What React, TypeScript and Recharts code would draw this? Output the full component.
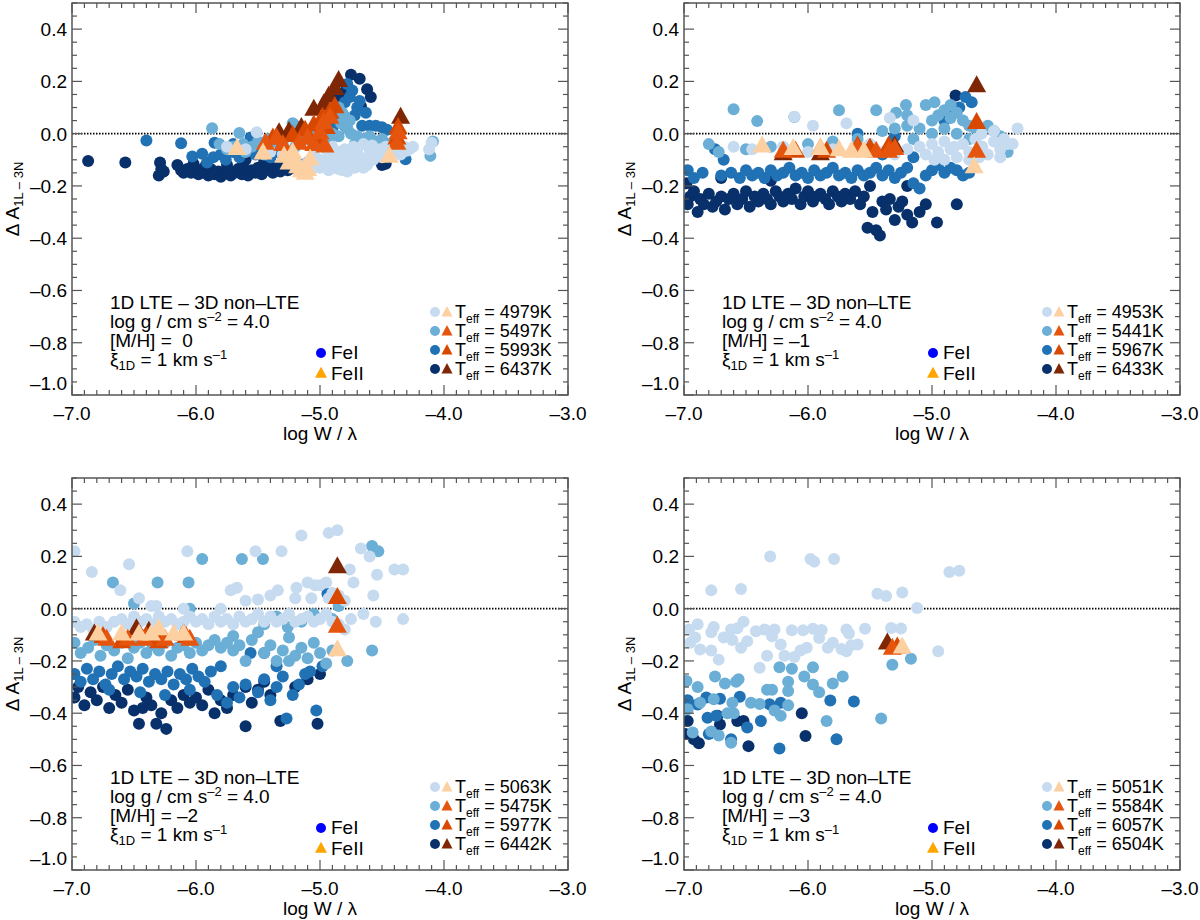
import React from "react";
import { ScatterChart, Scatter, XAxis, YAxis, ReferenceLine } from "recharts";

type P = [number, number];

// marker colours, coolest model first
const CIRCLE_COLORS = ["#c6dbef", "#6baed6", "#2171b5", "#08306b"];
const TRI_COLORS = ["#fdd0a2", "#e6550d", "#d94801", "#7f2704"];

const X_MAJOR = [-7, -6, -5, -4, -3];
const Y_MAJOR = [-1.0, -0.8, -0.6, -0.4, -0.2, 0.0, 0.2, 0.4];
const X_DOMAIN: [number, number] = [-7, -3];
const Y_DOMAIN: [number, number] = [-1, 0.5];

const TEFF_M0 = ["4979K", "5497K", "5993K", "6437K"];
const TEFF_M1 = ["4953K", "5441K", "5967K", "6433K"];
const TEFF_M2 = ["5063K", "5475K", "5977K", "6442K"];
const TEFF_M3 = ["5051K", "5584K", "6057K", "6504K"];
const METALLICITY = ["\u00a00", "\u2013" + "1", "\u2013" + "2", "\u2013" + "3"];

// ---------- [M/H] = 0 ----------
const feI_m0_4979: P[] = [
  [-5.51, 0.005], [-5.75, -0.05], [-5.6, -0.06], [-5.4, -0.07], [-5.3, -0.08], [-5.2, -0.1], [-5.1, -0.11],
  [-5.05, -0.13], [-5.05, -0.08], [-5.0, -0.1], [-4.97, -0.12], [-4.95, -0.06], [-4.93, -0.09], [-4.93, -0.14],
  [-4.9, -0.13], [-4.9, -0.05], [-4.87, -0.11], [-4.85, -0.07], [-4.85, -0.135], [-4.82, -0.14], [-4.8, -0.1],
  [-4.8, -0.06], [-4.78, -0.145], [-4.75, -0.12], [-4.73, -0.05], [-4.72, -0.09], [-4.72, -0.13], [-4.7, -0.07],
  [-4.68, -0.11], [-4.65, -0.13], [-4.65, -0.04], [-4.62, -0.09], [-4.62, -0.12], [-4.6, -0.06], [-4.58, -0.045],
  [-4.57, -0.1], [-4.55, -0.08], [-4.52, -0.06], [-4.5, -0.09], [-4.47, -0.05], [-4.45, -0.075], [-4.42, -0.07],
  [-4.4, -0.04], [-4.38, -0.05], [-4.35, -0.08], [-4.32, -0.05], [-4.3, -0.065], [-4.28, -0.06], [-4.25, -0.05],
  [-4.12, -0.06], [-4.1, -0.035], [-5.0, -0.13], [-4.88, -0.1], [-4.76, -0.08],
];
const feI_m0_5497: P[] = [
  [-5.87, 0.021], [-5.65, 0.003], [-5.81, -0.04], [-5.75, -0.06], [-5.7, -0.05], [-5.62, -0.04], [-5.6, -0.07],
  [-5.55, -0.05], [-5.5, -0.03], [-5.45, -0.08], [-5.42, -0.02], [-5.38, -0.05], [-5.3, -0.03], [-5.22, 0.04],
  [-5.2, -0.05], [-5.15, -0.03], [-5.1, -0.02], [-5.05, -0.01], [-5.0, 0.0], [-5.0, -0.03], [-4.95, -0.02],
  [-4.9, 0.0], [-4.88, 0.09], [-4.85, 0.1], [-4.85, -0.01], [-4.83, 0.04], [-4.82, 0.08], [-4.8, 0.066],
  [-4.78, 0.02], [-4.76, 0.05], [-4.75, 0.0], [-4.7, -0.01], [-4.65, -0.02], [-4.6, -0.01], [-4.55, -0.03],
  [-4.5, -0.02], [-4.45, -0.04], [-4.4, -0.03], [-4.35, -0.05], [-4.3, -0.06], [-4.11, -0.085], [-4.09, -0.03],
  [-4.92, -0.04], [-4.72, -0.04], [-4.62, -0.04],
];
const feI_m0_5993: P[] = [
  [-6.4, -0.026], [-6.12, -0.037], [-6.03, -0.087], [-5.95, -0.077], [-5.85, -0.035], [-5.91, -0.11],
  [-5.86, -0.09], [-5.8, -0.08], [-5.76, -0.1], [-5.7, -0.07], [-5.7, -0.04], [-5.65, -0.09], [-5.56, -0.015],
  [-5.6, -0.06], [-5.52, -0.08], [-5.45, -0.06], [-5.4, -0.09], [-5.35, -0.07], [-5.3, -0.08], [-5.2, 0.03],
  [-5.1, 0.01], [-5.0, 0.03], [-4.95, 0.05], [-4.9, 0.07], [-4.9, 0.02], [-4.85, 0.09], [-4.85, 0.05],
  [-4.8, 0.12], [-4.8, 0.03], [-4.78, 0.19], [-4.76, 0.14], [-4.74, 0.165], [-4.72, 0.07], [-4.7, 0.1],
  [-4.68, 0.125], [-4.66, 0.03], [-4.63, 0.08], [-4.6, 0.03], [-4.55, 0.03], [-4.5, 0.025], [-4.46, 0.015],
  [-4.35, -0.07], [-4.31, -0.098],
];
const feI_m0_6437: P[] = [
  [-6.87, -0.105], [-6.57, -0.11], [-6.29, -0.11], [-6.28, -0.135], [-6.3, -0.16], [-6.26, -0.145],
  [-6.15, -0.12], [-6.12, -0.14], [-6.1, -0.15], [-6.07, -0.135], [-6.04, -0.15], [-6.02, -0.115],
  [-6.01, -0.13], [-5.98, -0.155], [-5.96, -0.14], [-5.93, -0.15], [-5.92, -0.12], [-5.9, -0.16],
  [-5.88, -0.135], [-5.85, -0.155], [-5.82, -0.145], [-5.8, -0.165], [-5.77, -0.15], [-5.75, -0.12],
  [-5.74, -0.14], [-5.72, -0.16], [-5.69, -0.15], [-5.66, -0.135], [-5.63, -0.155], [-5.62, -0.115],
  [-5.6, -0.145], [-5.6, -0.1], [-5.58, -0.16], [-5.55, -0.14], [-5.52, -0.15], [-5.5, -0.13], [-5.47, -0.155],
  [-5.45, -0.105], [-5.44, -0.14], [-5.41, -0.125], [-5.38, -0.15], [-5.35, -0.13], [-5.32, -0.145],
  [-5.29, -0.12], [-5.26, -0.14], [-5.22, -0.13], [-5.18, -0.115], [-5.15, -0.13], [-5.1, -0.11],
  [-5.05, -0.12], [-4.86, 0.14], [-4.8, 0.16], [-4.75, 0.225], [-4.68, 0.21], [-4.62, 0.17], [-4.59, 0.14],
  [-4.67, 0.105], [-4.5, -0.12], [-4.47, -0.115],
];
const feII_m0_4979: P[] = [
  [-5.67, -0.06], [-5.46, -0.077], [-5.29, -0.09], [-5.22, -0.075], [-5.25, -0.115], [-5.2, -0.1],
  [-5.18, -0.13], [-5.15, -0.145], [-5.12, -0.155], [-5.1, -0.14], [-5.08, -0.1], [-4.44, -0.09],
];
const feII_m0_5497: P[] = [
  [-5.44, -0.04], [-5.35, -0.02], [-5.3, -0.045], [-5.17, -0.04], [-5.1, -0.02], [-5.05, -0.045],
  [-5.0, 0.0], [-4.97, 0.04], [-4.96, -0.05], [-4.92, 0.06], [-4.38, -0.04], [-4.37, 0.0],
];
const feII_m0_5993: P[] = [
  [-5.38, -0.02], [-5.22, -0.01], [-5.12, 0.01], [-5.05, 0.03], [-5.02, -0.02], [-4.98, 0.06],
  [-4.95, 0.02], [-4.92, 0.08], [-4.88, 0.1], [-4.38, -0.02], [-4.37, 0.02],
];
const feII_m0_6437: P[] = [
  [-5.33, 0.0], [-5.25, 0.005], [-5.15, 0.02], [-5.05, 0.09], [-4.97, 0.11], [-4.93, 0.14], [-4.88, 0.17],
  [-4.85, 0.2], [-4.35, 0.06],
];

// ---------- [M/H] = -1 ----------
const feI_m1_4953: P[] = [
  [-6.11, 0.065], [-5.96, 0.03], [-5.69, 0.04], [-5.34, 0.06], [-5.15, 0.05], [-4.31, 0.02], [-4.39, -0.04],
  [-6.6, -0.05], [-6.45, -0.06], [-6.2, -0.05], [-6.0, -0.07], [-5.8, -0.06], [-5.6, -0.05], [-5.5, -0.04],
  [-5.4, -0.07], [-5.3, -0.08], [-5.2, -0.06], [-5.1, -0.05], [-5.05, -0.08], [-5.0, -0.04], [-4.95, -0.07],
  [-4.9, -0.03], [-4.9, -0.1], [-4.85, -0.06], [-4.8, -0.09], [-4.75, -0.04], [-4.7, -0.07], [-4.7, -0.1],
  [-4.65, -0.02], [-4.6, -0.05], [-4.6, 0.0], [-4.55, -0.08], [-4.5, -0.03], [-4.5, 0.01], [-4.45, -0.06],
  [-4.42, -0.02], [-4.35, -0.04], [-4.98, -0.1], [-4.82, -0.05], [-4.62, -0.09], [-4.45, -0.09],
];
const feI_m1_5441: P[] = [
  [-6.6, 0.093], [-6.41, 0.048], [-6.11, 0.064], [-5.75, 0.09], [-5.45, 0.09], [-5.29, 0.08], [-5.21, 0.11],
  [-5.05, 0.11], [-4.98, 0.12], [-4.39, -0.07], [-6.72, -0.07], [-6.8, -0.04], [-6.5, -0.06], [-6.3, -0.05],
  [-6.0, -0.04], [-5.8, -0.03], [-5.6, -0.02], [-5.4, 0.01], [-5.3, 0.02], [-5.2, 0.03], [-5.2, 0.07],
  [-5.15, -0.02], [-5.1, 0.02], [-5.0, 0.05], [-5.0, 0.0], [-4.95, 0.07], [-4.9, 0.09], [-4.9, 0.02],
  [-4.85, 0.06], [-4.85, 0.11], [-4.8, 0.08], [-4.8, 0.0], [-4.75, 0.05], [-4.7, 0.03], [-4.7, -0.02],
  [-4.65, 0.02], [-4.6, 0.01], [-4.6, -0.05], [-4.55, 0.03], [-4.5, 0.01], [-4.45, -0.01],
];
const feI_m1_5967: P[] = [
  [-6.97, -0.14], [-6.92, -0.17], [-6.85, -0.15], [-6.75, -0.06], [-6.68, -0.1], [-6.7, -0.16],
  [-6.62, -0.15], [-6.55, -0.17], [-6.5, -0.14], [-6.45, -0.16], [-6.4, -0.15], [-6.35, -0.17],
  [-6.3, -0.14], [-6.25, -0.16], [-6.2, -0.15], [-6.15, -0.13], [-6.1, -0.16], [-6.05, -0.15],
  [-6.0, -0.17], [-5.95, -0.14], [-5.9, -0.16], [-5.85, -0.15], [-5.8, -0.13], [-5.75, -0.16],
  [-5.7, -0.15], [-5.65, -0.17], [-5.6, -0.14], [-5.6, 0.0], [-5.55, -0.16], [-5.5, -0.15], [-5.45, -0.13],
  [-5.4, -0.16], [-5.4, -0.08], [-5.35, -0.14], [-5.3, -0.17], [-5.3, -0.01], [-5.25, -0.15], [-5.2, -0.13],
  [-5.15, -0.19], [-5.15, -0.09], [-5.1, -0.21], [-5.05, -0.16], [-5.0, -0.14], [-4.95, -0.12],
  [-4.9, -0.15], [-4.9, 0.05], [-4.85, -0.13], [-4.85, 0.08], [-4.8, -0.14], [-4.78, 0.1], [-4.75, -0.16],
  [-4.73, 0.14], [-4.7, -0.15], [-4.68, 0.12],
];
const feI_m1_6433: P[] = [
  [-6.98, -0.19], [-6.97, -0.27], [-6.95, -0.24], [-6.92, -0.22], [-6.89, -0.3], [-6.87, -0.25],
  [-6.84, -0.27], [-6.8, -0.23], [-6.77, -0.28], [-6.74, -0.26], [-6.7, -0.24], [-6.7, -0.17],
  [-6.67, -0.29], [-6.64, -0.25], [-6.6, -0.23], [-6.57, -0.27], [-6.53, -0.25], [-6.5, -0.22],
  [-6.47, -0.28], [-6.43, -0.24], [-6.4, -0.26], [-6.36, -0.23], [-6.33, -0.25], [-6.3, -0.27],
  [-6.3, -0.18], [-6.26, -0.22], [-6.23, -0.24], [-6.2, -0.26], [-6.16, -0.23], [-6.13, -0.25],
  [-6.1, -0.21], [-6.06, -0.27], [-6.03, -0.24], [-6.0, -0.22], [-5.96, -0.26], [-5.93, -0.24],
  [-5.9, -0.23], [-5.86, -0.25], [-5.83, -0.27], [-5.8, -0.22], [-5.76, -0.24], [-5.73, -0.26],
  [-5.7, -0.23], [-5.66, -0.25], [-5.62, -0.22], [-5.58, -0.27], [-5.55, -0.24], [-5.52, -0.36],
  [-5.5, -0.2], [-5.48, -0.3], [-5.45, -0.37], [-5.42, -0.39], [-5.4, -0.26], [-5.37, -0.29],
  [-5.34, -0.25], [-5.3, -0.33], [-5.27, -0.28], [-5.24, -0.26], [-5.2, -0.31], [-5.2, -0.2],
  [-5.16, -0.34], [-5.1, -0.3], [-5.05, -0.27], [-4.96, -0.34], [-4.8, -0.27], [-4.81, 0.146],
];
const feII_m1_4953: P[] = [
  [-6.37, -0.05], [-6.12, -0.06], [-5.9, -0.06], [-5.75, -0.065], [-5.65, -0.07], [-5.55, -0.07], [-4.66, -0.13],
];
const feII_m1_5441: P[] = [
  [-6.2, -0.07], [-5.9, -0.06], [-5.6, -0.06], [-5.45, -0.07], [-5.35, -0.07], [-5.3, -0.06], [-4.64, -0.07],
];
const feII_m1_5967: P[] = [
  [-6.1, -0.07], [-5.85, -0.07], [-5.6, -0.05], [-5.5, -0.06], [-5.35, -0.05], [-4.64, 0.04],
];
const feII_m1_6433: P[] = [
  [-6.2, -0.08], [-5.9, -0.08], [-5.5, -0.06], [-5.3, -0.05], [-4.64, 0.18],
];

// ---------- [M/H] = -2 ----------
const feI_m2_5063: P[] = [
  [-6.98, 0.22], [-6.84, 0.14], [-6.54, 0.17], [-6.61, 0.07], [-6.46, 0.04], [-6.36, 0.01], [-6.32, 0.01],
  [-6.07, 0.22], [-5.8, 0.0], [-5.72, 0.07], [-5.67, 0.08], [-5.6, 0.03], [-5.52, 0.22], [-5.5, 0.035],
  [-5.4, 0.05], [-5.34, 0.07], [-5.31, 0.22], [-5.2, 0.04], [-5.19, 0.08], [-5.15, 0.28], [-5.1, 0.1],
  [-5.07, 0.04], [-5.04, 0.09], [-5.0, 0.09], [-4.95, 0.1], [-4.93, 0.29], [-4.93, 0.04], [-4.9, 0.06],
  [-4.86, 0.3], [-4.85, 0.05], [-4.8, 0.03], [-4.76, 0.15], [-4.73, 0.1], [-4.67, 0.23], [-4.6, 0.2],
  [-4.57, 0.05], [-4.54, 0.13], [-4.4, 0.15], [-4.33, 0.15], [-4.33, -0.04], [-4.55, -0.05],
  [-6.98, -0.05], [-6.93, -0.07], [-6.88, -0.06], [-6.83, -0.08], [-6.78, -0.05], [-6.72, -0.07],
  [-6.66, -0.05], [-6.6, -0.04], [-6.55, -0.06], [-6.5, -0.03], [-6.45, -0.05], [-6.4, -0.04],
  [-6.35, -0.06], [-6.3, -0.03], [-6.25, -0.05], [-6.2, -0.04], [-6.15, -0.06], [-6.1, -0.05],
  [-6.1, 0.0], [-6.05, -0.03], [-6.0, -0.05], [-5.95, -0.04], [-5.9, -0.06], [-5.85, -0.03], [-5.8, -0.05],
  [-5.75, -0.04], [-5.7, -0.06], [-5.65, -0.03], [-5.6, -0.05], [-5.55, -0.04], [-5.5, -0.02],
  [-5.45, -0.05], [-5.4, -0.03], [-5.35, -0.05], [-5.3, -0.04], [-5.25, -0.02], [-5.2, -0.05],
  [-5.15, -0.04], [-5.1, -0.03], [-5.05, -0.05], [-5.0, -0.04], [-4.95, -0.02], [-4.9, -0.05],
  [-4.85, -0.06], [-4.8, -0.08], [-4.75, -0.04], [-4.65, -0.02],
];
const feI_m2_5475: P[] = [
  [-6.67, 0.1], [-6.31, 0.1], [-6.06, 0.1], [-5.95, 0.19], [-5.63, 0.19], [-5.46, 0.19], [-4.58, 0.24],
  [-4.53, 0.22], [-4.58, -0.16], [-4.78, -0.2], [-6.5, 0.02], [-6.05, 0.0],
  [-6.98, -0.13], [-6.93, -0.17], [-6.87, -0.15], [-6.82, -0.12], [-6.77, -0.18], [-6.72, -0.14],
  [-6.66, -0.16], [-6.6, -0.13], [-6.55, -0.19], [-6.5, -0.15], [-6.45, -0.13], [-6.4, -0.17],
  [-6.35, -0.14], [-6.3, -0.16], [-6.25, -0.13], [-6.2, -0.18], [-6.15, -0.15], [-6.1, -0.14],
  [-6.05, -0.17], [-6.0, -0.13], [-5.95, -0.16], [-5.9, -0.14], [-5.85, -0.12], [-5.8, -0.15],
  [-5.75, -0.13], [-5.7, -0.16], [-5.7, -0.105], [-5.65, -0.14], [-5.6, -0.2], [-5.55, -0.12],
  [-5.5, -0.09], [-5.45, -0.17], [-5.45, -0.06], [-5.4, -0.14], [-5.35, -0.2], [-5.35, -0.03],
  [-5.3, -0.16], [-5.26, -0.07], [-5.25, -0.11], [-5.25, -0.2], [-5.2, -0.18], [-5.15, -0.15],
  [-5.15, -0.05], [-5.1, -0.19], [-5.05, -0.13], [-5.05, -0.02], [-5.0, -0.17], [-4.95, -0.21],
  [-4.9, -0.16], [-4.9, -0.04], [-4.85, 0.01],
];
const feI_m2_5977: P[] = [
  [-6.98, -0.25], [-6.93, -0.28], [-6.88, -0.23], [-6.83, -0.27], [-6.78, -0.24], [-6.73, -0.29],
  [-6.7, -0.31], [-6.68, -0.25], [-6.63, -0.22], [-6.58, -0.27], [-6.53, -0.24], [-6.48, -0.26],
  [-6.45, -0.32], [-6.43, -0.23], [-6.38, -0.28], [-6.33, -0.25], [-6.28, -0.27], [-6.25, -0.33],
  [-6.23, -0.24], [-6.18, -0.29], [-6.13, -0.25], [-6.08, -0.27], [-6.05, -0.31], [-6.03, -0.23],
  [-5.98, -0.26], [-5.93, -0.28], [-5.88, -0.24], [-5.83, -0.33], [-5.8, -0.22], [-5.75, -0.36],
  [-5.7, -0.3], [-5.65, -0.34], [-5.6, -0.29], [-5.56, -0.17], [-5.5, -0.32], [-5.45, -0.27],
  [-5.45, -0.17], [-5.4, -0.35], [-5.35, -0.3], [-5.35, -0.22], [-5.3, -0.26], [-5.27, -0.42],
  [-5.22, -0.33], [-5.17, -0.29], [-5.12, -0.25], [-5.08, -0.24], [-5.03, -0.39], [-4.98, -0.22],
  [-4.94, 0.057],
];
const feI_m2_6442: P[] = [
  [-6.98, -0.34], [-6.95, -0.3], [-6.9, -0.37], [-6.85, -0.32], [-6.8, -0.35], [-6.75, -0.3],
  [-6.7, -0.38], [-6.65, -0.33], [-6.6, -0.36], [-6.55, -0.31], [-6.5, -0.39], [-6.46, -0.44],
  [-6.43, -0.38], [-6.4, -0.34], [-6.36, -0.37], [-6.32, -0.44], [-6.28, -0.4], [-6.24, -0.46],
  [-6.2, -0.35], [-6.15, -0.38], [-6.1, -0.33], [-6.05, -0.36], [-6.0, -0.34], [-5.95, -0.37],
  [-5.9, -0.31], [-5.85, -0.4], [-5.8, -0.35], [-5.75, -0.38], [-5.7, -0.33], [-5.6, -0.3],
  [-5.6, -0.45], [-5.55, -0.36], [-5.5, -0.31], [-5.45, -0.28], [-5.4, -0.33], [-5.32, -0.43],
  [-5.2, -0.3], [-5.1, -0.27], [-5.02, -0.44], [-5.0, -0.25],
];
const feII_m2_5063: P[] = [
  [-6.79, -0.1], [-6.6, -0.1], [-6.46, -0.1], [-6.36, -0.1], [-6.3, -0.08], [-6.18, -0.1], [-6.1, -0.1], [-4.86, -0.16],
];
const feII_m2_5475: P[] = [
  [-6.72, -0.12], [-6.55, -0.12], [-6.42, -0.12], [-6.25, -0.12], [-6.05, -0.12], [-4.86, -0.07],
];
const feII_m2_5977: P[] = [
  [-6.75, -0.11], [-6.6, -0.13], [-6.4, -0.11], [-6.3, -0.13], [-6.08, -0.11], [-4.86, 0.04],
];
const feII_m2_6442: P[] = [
  [-6.82, -0.1], [-6.48, -0.08], [-6.38, -0.09], [-6.1, -0.1], [-4.86, 0.157],
];

// ---------- [M/H] = -3 ----------
const feI_m3_5051: P[] = [
  [-6.305, 0.2], [-5.98, 0.19], [-5.95, 0.18], [-5.79, 0.19], [-6.78, 0.07], [-6.54, 0.075], [-4.86, 0.14],
  [-4.78, 0.145], [-5.44, 0.057], [-5.37, 0.048], [-5.24, 0.062], [-5.12, 0.003], [-4.95, -0.163],
  [-5.33, -0.074], [-5.25, -0.076], [-5.54, -0.077], [-5.69, -0.08], [-5.67, -0.095], [-5.96, -0.077],
  [-5.89, -0.082], [-6.13, -0.083], [-6.04, -0.083], [-6.35, -0.08], [-6.42, -0.086], [-6.27, -0.08],
  [-6.52, -0.05], [-6.57, -0.075], [-6.62, -0.08], [-6.76, -0.07], [-6.89, -0.06], [-6.96, -0.08],
  [-6.91, -0.11], [-6.78, -0.09], [-6.68, -0.11], [-6.78, -0.16], [-6.72, -0.195], [-6.61, -0.12],
  [-6.49, -0.125], [-6.54, -0.15], [-6.29, -0.106], [-6.22, -0.137], [-6.33, -0.18], [-6.39, -0.226],
  [-6.19, -0.18], [-6.11, -0.185], [-6.06, -0.16], [-6.01, -0.15], [-5.91, -0.112], [-5.84, -0.15],
  [-5.8, -0.13], [-5.73, -0.154], [-5.69, -0.163], [-5.65, -0.14], [-5.6, -0.137], [-6.87, -0.156],
  [-6.95, -0.13],
];
const feI_m3_5584: P[] = [
  [-6.23, -0.224], [-6.13, -0.23], [-5.96, -0.224], [-6.75, -0.26], [-6.67, -0.286], [-6.58, -0.28],
  [-6.56, -0.27], [-6.98, -0.277], [-6.89, -0.3], [-6.03, -0.26], [-5.96, -0.29], [-6.16, -0.28],
  [-6.16, -0.315], [-5.91, -0.32], [-5.8, -0.286], [-5.72, -0.26], [-5.32, -0.215], [-5.17, -0.192],
  [-5.41, -0.42], [-5.85, -0.43], [-6.33, -0.31], [-6.29, -0.31], [-6.46, -0.36], [-6.39, -0.365],
  [-6.27, -0.39], [-6.22, -0.41], [-6.61, -0.36], [-6.65, -0.4], [-6.6, -0.4], [-6.16, -0.37],
  [-6.97, -0.385], [-6.93, -0.474], [-6.78, -0.47], [-6.72, -0.485], [-6.62, -0.513], [-6.87, -0.36],
  [-6.76, -0.347],
];
const feI_m3_6057: P[] = [
  [-5.82, -0.351], [-5.63, -0.355], [-5.77, -0.5], [-6.23, -0.535], [-6.38, -0.43], [-6.49, -0.455],
  [-6.55, -0.337], [-6.71, -0.345], [-6.82, -0.34], [-6.89, -0.367], [-6.81, -0.417], [-6.74, -0.41],
  [-6.62, -0.5], [-6.31, -0.366], [-6.22, -0.36], [-6.8, -0.48], [-6.97, -0.35],
];
const feI_m3_6504: P[] = [
  [-6.05, -0.4], [-6.02, -0.487], [-6.48, -0.526], [-6.71, -0.443], [-6.73, -0.41], [-6.57, -0.43],
  [-6.52, -0.43], [-6.88, -0.515], [-6.97, -0.43], [-6.99, -0.48], [-6.92, -0.5],
];
const feII_m3_5051: P[] = [[-5.24, -0.15]];
const feII_m3_5584: P[] = [[-5.32, -0.155]];
const feII_m3_6057: P[] = [[-5.28, -0.15]];
const feII_m3_6504: P[] = [[-5.36, -0.135]];

const PANELS = [
  {
    left: 0, top: 0, mh: METALLICITY[0], teff: TEFF_M0,
    feI: [feI_m0_4979, feI_m0_5497, feI_m0_5993, feI_m0_6437],
    feII: [feII_m0_4979, feII_m0_5497, feII_m0_5993, feII_m0_6437],
  },
  {
    left: 612, top: 0, mh: METALLICITY[1], teff: TEFF_M1,
    feI: [feI_m1_4953, feI_m1_5441, feI_m1_5967, feI_m1_6433],
    feII: [feII_m1_4953, feII_m1_5441, feII_m1_5967, feII_m1_6433],
  },
  {
    left: 0, top: 475, mh: METALLICITY[2], teff: TEFF_M2,
    feI: [feI_m2_5063, feI_m2_5475, feI_m2_5977, feI_m2_6442],
    feII: [feII_m2_5063, feII_m2_5475, feII_m2_5977, feII_m2_6442],
  },
  {
    left: 612, top: 475, mh: METALLICITY[3], teff: TEFF_M3,
    feI: [feI_m3_5051, feI_m3_5584, feI_m3_6057, feI_m3_6504],
    feII: [feII_m3_5051, feII_m3_5584, feII_m3_6057, feII_m3_6504],
  },
];

const W = 588;
const H = 445;
const PL = 72; // plot left inside chart
const PT = 3; // plot top inside chart
const PW = 496;
const PH = 392;
const AX = "#555";
const FONT = "'Liberation Sans', Arial, Helvetica, sans-serif";
const FS = 19;
const FS_SUB = 13;
const FS_LEG = 18;

function subdivide(majors: number[], parts: number) {
  const out: number[] = [];
  for (let i = 0; i < majors.length - 1; i++) {
    const a = majors[i];
    const step = (majors[i + 1] - a) / parts;
    for (let k = 0; k < parts; k++) out.push(Math.round((a + k * step) * 1000) / 1000);
  }
  out.push(majors[majors.length - 1]);
  return out;
}

const X_TICKS = subdivide(X_MAJOR, 10);
const Y_TICKS = subdivide([...Y_MAJOR, 0.6], 4).filter((v) => v <= 0.5 + 1e-9);

const isMajor = (v: number, list: number[]) => list.some((m) => Math.abs(m - v) < 1e-6);
const fmt = (v: number) => (v < -1e-9 ? "\u2013" + Math.abs(v).toFixed(1) : Math.abs(v).toFixed(1));

function XTick({ x, y, payload }: any) {
  const v = payload.value;
  const major = isMajor(v, X_MAJOR);
  const len = major ? 10 : 5;
  return (
    <g>
      <line x1={x} y1={y} x2={x} y2={y - len} stroke={AX} strokeWidth={1.2} />
      <line x1={x} y1={y - PH} x2={x} y2={y - PH + len} stroke={AX} strokeWidth={1.2} />
      {major && (
        <text x={x} y={y + 25} textAnchor="middle" fontSize={FS} fontFamily={FONT} fill="#000">
          {fmt(v)}
        </text>
      )}
    </g>
  );
}

function YTick({ x, y, payload }: any) {
  const v = payload.value;
  const major = isMajor(v, Y_MAJOR);
  const len = major ? 10 : 5;
  const ly = Math.abs(v + 1) < 1e-6 ? y - 12 : y;
  return (
    <g>
      <line x1={x} y1={y} x2={x + len} y2={y} stroke={AX} strokeWidth={1.2} />
      <line x1={x + PW} y1={y} x2={x + PW - len} y2={y} stroke={AX} strokeWidth={1.2} />
      {major && (
        <text x={x - 5} y={ly + 7} textAnchor="end" fontSize={FS} fontFamily={FONT} fill="#000">
          {fmt(v)}
        </text>
      )}
    </g>
  );
}

const tri = (cx: number, cy: number, b: number, h: number) =>
  `${cx},${cy - (2 * h) / 3} ${cx - b},${cy + h / 3} ${cx + b},${cy + h / 3}`;

const toPts = (arr: P[]) => arr.map(([x, y]) => ({ x, y }));

function Panel({ panel }: { panel: (typeof PANELS)[number] }) {
  const order = [3, 2, 1, 0];
  return (
    <div style={{ position: "absolute", left: panel.left, top: panel.top, width: W, height: H }}>
      <ScatterChart width={W} height={H} margin={{ top: PT, right: W - PL - PW, bottom: 0, left: 0 }}>
        <XAxis
          type="number"
          dataKey="x"
          domain={X_DOMAIN}
          ticks={X_TICKS}
          interval={0}
          allowDataOverflow
          axisLine={false}
          tickLine={false}
          tickSize={0}
          tickMargin={0}
          height={H - PT - PH}
          tick={<XTick />}
        />
        <YAxis
          type="number"
          dataKey="y"
          domain={Y_DOMAIN}
          ticks={Y_TICKS}
          interval={0}
          allowDataOverflow
          axisLine={false}
          tickLine={false}
          tickSize={0}
          tickMargin={0}
          width={PL}
          tick={<YTick />}
        />
        {order.map((i) => (
          <Scatter
            key={"c" + i}
            data={toPts(panel.feI[i])}
            isAnimationActive={false}
            shape={(p: any) => <circle cx={p.cx} cy={p.cy} r={6} fill={CIRCLE_COLORS[i]} />}
          />
        ))}
        {order.map((i) => (
          <Scatter
            key={"t" + i}
            data={toPts(panel.feII[i])}
            isAnimationActive={false}
            shape={(p: any) => <polygon points={tri(p.cx, p.cy, 9.5, 17)} fill={TRI_COLORS[i]} />}
          />
        ))}
        <ReferenceLine y={0} stroke="#000" strokeWidth={1.6} strokeDasharray="1.5 1.5" />
      </ScatterChart>
      <svg
        width={W}
        height={H}
        style={{ position: "absolute", left: 0, top: 0, pointerEvents: "none" }}
        fontFamily={FONT}
      >
        <rect x={PL} y={PT} width={PW} height={PH} fill="none" stroke={AX} strokeWidth={1.5} />
        <text x={19} y={PT + PH / 2} transform={`rotate(-90 19 ${PT + PH / 2})`} textAnchor="middle" fontSize={FS}>
          {"\u0394 A"}
          <tspan fontSize={FS_SUB} dy={4}>{"1L \u2013 3N"}</tspan>
        </text>
        <text x={PL + PW / 2} y={440} textAnchor="middle" fontSize={FS}>
          {"log W / \u03bb"}
        </text>
        <g fontSize={FS} style={{ whiteSpace: "pre" }}>
          <text x={110} y={309}>{"1D LTE \u2013 3D non\u2013LTE"}</text>
          <text x={110} y={328}>
            {"log g / cm s"}
            <tspan fontSize={FS_SUB} dy={-7}>{"\u20132"}</tspan>
            <tspan dy={7}>{" = 4.0"}</tspan>
          </text>
          <text x={110} y={347}>{"[M/H] = " + panel.mh}</text>
          <text x={110} y={366}>
            {"\u03be"}
            <tspan fontSize={FS_SUB} dy={4}>{"1D"}</tspan>
            <tspan dy={-4}>{" = 1 km s"}</tspan>
            <tspan fontSize={FS_SUB} dy={-7}>{"\u20131"}</tspan>
          </text>
        </g>
        <circle cx={321} cy={353} r={5} fill="#0000ff" />
        <text x={331} y={359} fontSize={FS}>FeI</text>
        <polygon points={tri(321, 374, 6, 11)} fill="#ffa500" />
        <text x={331} y={380} fontSize={FS}>FeII</text>
        {panel.teff.map((t, i) => {
          const cy = 312 + i * 19;
          return (
            <g key={t}>
              <circle cx={435} cy={cy} r={5} fill={CIRCLE_COLORS[i]} />
              <polygon points={tri(447, cy + 1, 5.5, 10.5)} fill={TRI_COLORS[i]} />
              <text x={455} y={cy + 6} fontSize={FS_LEG}>
                {"T"}
                <tspan fontSize={12} dy={5}>eff</tspan>
                <tspan dy={-5}>{" = " + t}</tspan>
              </text>
            </g>
          );
        })}
      </svg>
    </div>
  );
}

export default function App() {
  return (
    <div
      style={{
        position: "absolute",
        left: 0,
        top: 0,
        width: 1200,
        height: 920,
        overflow: "hidden",
        background: "#fff",
      }}
    >
      {PANELS.map((p, i) => (
        <Panel key={i} panel={p} />
      ))}
    </div>
  );
}
